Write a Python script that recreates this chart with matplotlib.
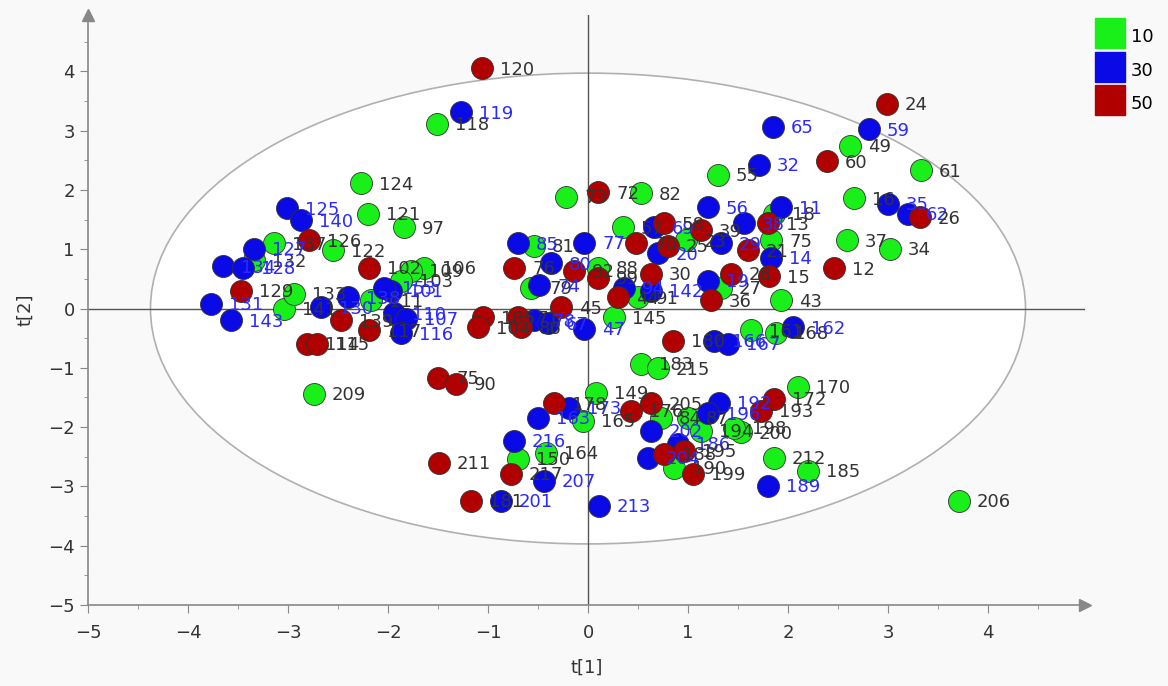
import matplotlib.pyplot as plt
import numpy as np
from matplotlib.patches import Ellipse
from matplotlib.lines import Line2D

# group 10 (green)
g10_id = ["124", "121", "97", "118", "122", "137", "132", "106", "109", "103", "141", "133", "111",
          "209", "73", "82", "55", "49", "61", "16", "37", "34", "43", "57", "81", "88", "79", "91",
          "27", "18", "75", "23", "145", "183", "215", "149", "165", "164", "150", "170", "200", "87",
          "194", "198", "190", "212", "185", "206", "84", "161", "168"]
g10_x = [-2.27, -2.20, -1.84, -1.51, -2.55, -3.14, -3.34, -1.64, -1.77, -1.87, -3.04, -2.94, -2.17,
         -2.74, -0.22, 0.53, 1.30, 2.62, 3.33, 2.66, 2.59, 3.02, 1.93, 0.35, -0.54, 0.10, -0.57, 0.50,
         1.33, 1.86, 1.83, 0.98, 0.26, 0.53, 0.70, 0.08, -0.05, -0.42, -0.70, 2.10, 1.53, 1.00,
         1.13, 1.46, 0.86, 1.86, 2.20, 3.71, 0.73, 1.63, 1.88]
g10_y = [2.11, 1.60, 1.37, 3.11, 0.98, 1.10, 0.81, 0.69, 0.64, 0.47, 0.00, 0.25, 0.14,
         -1.44, 1.88, 1.94, 2.25, 2.74, 2.33, 1.86, 1.15, 1.01, 0.14, 1.37, 1.06, 0.69, 0.35, 0.19,
         0.35, 1.60, 1.15, 1.15, -0.15, -0.93, -1.01, -1.42, -1.89, -2.43, -2.53, -1.32, -2.09, -1.84,
         -2.06, -2.01, -2.69, -2.52, -2.74, -3.24, -1.84, -0.37, -0.41]

# group 30 (blue)
g30_id = ["119", "125", "140", "127", "134", "128", "101", "131", "143", "130", "138", "153", "110",
          "107", "116", "65", "59", "32", "35", "62", "11", "56", "38", "29", "14", "85", "77", "69",
          "20", "80", "74", "94", "142", "19", "78", "67", "47", "166", "167", "162", "192", "196",
          "202", "204", "186", "173", "163", "216", "207", "201", "213", "189"]
g30_x = [-1.27, -3.01, -2.87, -3.34, -3.65, -3.45, -1.97, -3.77, -3.57, -2.67, -2.40, -2.04, -1.94,
         -1.82, -1.87, 1.85, 2.81, 1.71, 3.00, 3.20, 1.93, 1.20, 1.56, 1.33, 1.83, -0.70, -0.04, 0.66,
         0.70, -0.37, -0.49, 0.36, 0.63, 1.20, -0.54, -0.40, -0.04, 1.26, 1.40, 2.05, 1.31, 1.20,
         0.63, 0.60, 0.90, -0.19, -0.50, -0.74, -0.44, -0.87, 0.11, 1.80]
g30_y = [3.31, 1.69, 1.49, 1.01, 0.71, 0.69, 0.30, 0.08, -0.20, 0.02, 0.19, 0.35, -0.08,
         -0.17, -0.42, 3.06, 3.02, 2.42, 1.77, 1.60, 1.71, 1.71, 1.44, 1.10, 0.86, 1.10, 1.11, 1.37,
         0.93, 0.76, 0.39, 0.35, 0.30, 0.47, -0.20, -0.25, -0.34, -0.54, -0.59, -0.32, -1.59, -1.77,
         -2.06, -2.52, -2.28, -1.67, -1.84, -2.23, -2.91, -3.24, -3.33, -2.99]

# group 50 (red)
g50_id = ["120", "24", "60", "26", "12", "15", "72", "126", "102", "129", "139", "117", "114", "115",
          "105", "104", "58", "39", "13", "70", "25", "21", "76", "92", "99", "30", "44", "36", "28",
          "71", "86", "45", "180", "75", "90", "178", "176", "205", "172", "193", "188", "195", "199",
          "211", "217", "181"]
g50_x = [-1.06, 2.99, 2.39, 3.32, 2.46, 1.81, 0.10, -2.79, -2.19, -3.47, -2.47, -2.19, -2.81, -2.71,
         -1.05, -1.10, 0.76, 1.13, 1.80, 0.48, 0.80, 1.60, -0.74, -0.14, 0.10, 0.63, 0.30, 1.23, 1.43,
         -0.70, -0.67, -0.27, 0.85, -1.50, -1.32, -0.34, 0.43, 0.63, 1.86, 1.73, 0.76, 0.96, 1.05,
         -1.49, -0.77, -1.17]
g50_y = [4.05, 3.45, 2.48, 1.54, 0.68, 0.54, 1.96, 1.15, 0.69, 0.30, -0.20, -0.37, -0.59, -0.59,
         -0.15, -0.32, 1.44, 1.32, 1.44, 1.10, 1.06, 0.98, 0.69, 0.64, 0.52, 0.59, 0.19, 0.14, 0.59,
         -0.15, -0.32, 0.02, -0.54, -1.17, -1.27, -1.60, -1.72, -1.60, -1.52, -1.72, -2.45, -2.40, -2.79,
         -2.60, -2.79, -3.24]

groups = [("10", g10_id, g10_x, g10_y, "#19f019", "#333333"),
          ("30", g30_id, g30_x, g30_y, "#0a0ae6", "#2a2aff"),
          ("50", g50_id, g50_x, g50_y, "#b00000", "#333333")]

fig = plt.figure(figsize=(11.68, 6.86), dpi=100, facecolor="#f9f9f9")
ax = fig.add_axes([88/1168, 1-605/686, 997/1168, 590/686])
ax.set_facecolor("#f9f9f9")
ax.set_xlim(-5, 4.97)
ax.set_ylim(-5, 4.95)

ax.add_patch(Ellipse((0, 0), 8.75, 7.94, facecolor="white", edgecolor="#b0b0b0", lw=1.2, zorder=0))
ax.axhline(0, color="#555555", lw=1, zorder=1)
ax.axvline(0, color="#555555", lw=1, zorder=1)

for name, ids, xs, ys, col, tcol in groups:
    ax.scatter(xs, ys, s=250, c=col, edgecolors="#303030", linewidths=0.6, zorder=3)
for name, ids, xs, ys, col, tcol in groups:
    for i, x, y in zip(ids, xs, ys):
        ax.annotate(i, (x, y), xytext=(13, -1), textcoords="offset points", va="center", ha="left",
                    fontsize=13, color=tcol, zorder=4)

for s in ["top", "right"]:
    ax.spines[s].set_visible(False)
for s in ["left", "bottom"]:
    ax.spines[s].set_color("#888888")
    ax.spines[s].set_linewidth(1.2)
ax.plot(1, 0, ">", color="#888888", ms=9, transform=ax.transAxes, clip_on=False)
ax.plot(0, 1, "^", color="#888888", ms=9, transform=ax.transAxes, clip_on=False)

ax.set_xticks(np.arange(-5, 5, 1))
ax.set_yticks(np.arange(-5, 5, 1))
ax.set_xticks(np.arange(-4.5, 5, 1), minor=True)
ax.set_yticks(np.arange(-4.5, 5, 1), minor=True)
ax.tick_params(which="major", length=6, color="#888888", labelsize=13, labelcolor="#333333")
ax.tick_params(axis="x", which="major", pad=8)
ax.tick_params(which="minor", length=3, color="#888888")
ax.set_xlabel("t[1]", fontsize=13, color="#333333", labelpad=12)
ax.set_ylabel("t[2]", fontsize=13, color="#333333", labelpad=10)

handles = [Line2D([], [], ls="", marker="s", ms=21, color=g[4], markeredgecolor=g[4]) for g in groups]
fig.legend(handles, [g[0] for g in groups], loc="upper left", bbox_to_anchor=(1080/1168, 1 - 8/686),
           frameon=False, fontsize=13, handletextpad=0.4, labelspacing=0.5, handleheight=1.7,
           handlelength=1.5)

fig.savefig("out.png", dpi=100, facecolor=fig.get_facecolor())
